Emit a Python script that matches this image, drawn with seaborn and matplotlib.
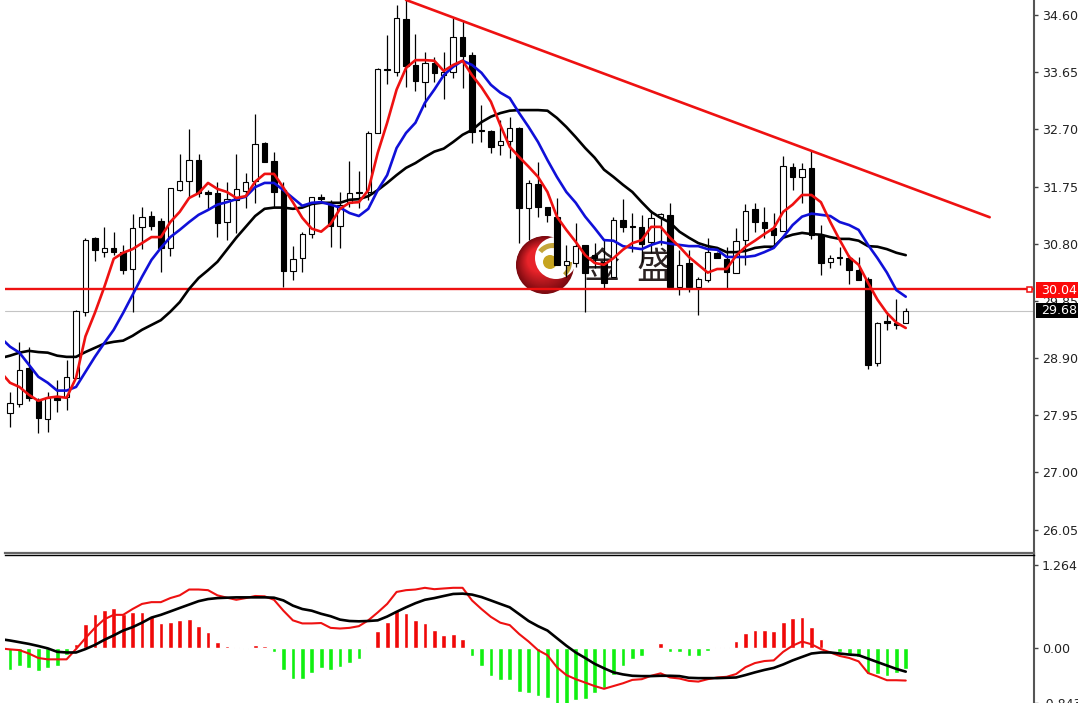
import matplotlib
matplotlib.use("Agg")
import matplotlib.pyplot as plt
from matplotlib.patches import Circle, Rectangle, Wedge
from matplotlib.transforms import Affine2D
from matplotlib.colors import to_rgb
import numpy as np
import pandas as pd
import seaborn as sns

# candles
candle_open = [
    27.98, 28.14, 28.73, 28.19, 27.89, 28.26, 28.26, 28.57, 29.67, 30.90,
    30.66, 30.73, 30.66, 30.38, 31.08, 31.26, 31.18, 30.73, 31.69, 31.84,
    32.19, 31.66, 31.64, 31.16, 31.53, 31.68, 31.84, 32.47, 32.18, 31.69,
    30.35, 30.56, 30.96, 31.58, 31.45, 31.10, 31.48, 31.66, 31.66, 32.64,
    33.70, 33.65, 34.53, 33.77, 33.49, 33.80, 33.60, 33.65, 34.24, 33.94,
    32.69, 32.67, 32.44, 32.51, 32.72, 31.40, 31.79, 31.41, 31.25, 30.45,
    30.48, 30.78, 30.61, 30.50, 30.25, 31.20, 31.09, 31.08, 30.83, 31.25,
    31.28, 30.08, 30.48, 30.08, 30.20, 30.65, 30.55, 30.32, 30.86, 31.38,
    31.16, 31.06, 31.01, 32.08, 31.91, 32.06, 30.95, 30.50, 30.58, 30.57,
    30.37, 30.22, 28.82, 29.51, 29.49, 29.49]
candle_close = [
    28.16, 28.71, 28.24, 27.91, 28.24, 28.21, 28.59, 29.68, 30.86, 30.70,
    30.73, 30.66, 30.36, 31.06, 31.24, 31.09, 30.73, 31.73, 31.84, 32.19,
    31.64, 31.63, 31.15, 31.54, 31.71, 31.83, 32.46, 32.16, 31.66, 30.35,
    30.55, 30.96, 31.58, 31.54, 31.10, 31.45, 31.64, 31.64, 32.64, 33.70,
    33.68, 34.55, 33.75, 33.50, 33.80, 33.64, 33.65, 34.24, 33.92, 32.66,
    32.67, 32.41, 32.51, 32.72, 31.40, 31.81, 31.41, 31.28, 30.45, 30.51,
    30.76, 30.32, 30.56, 30.15, 31.20, 31.08, 31.07, 30.80, 31.23, 31.30,
    30.08, 30.45, 30.08, 30.22, 30.66, 30.56, 30.33, 30.85, 31.35, 31.16,
    31.06, 30.95, 32.09, 31.91, 32.04, 30.95, 30.48, 30.57, 30.56, 30.37,
    30.20, 28.79, 29.49, 29.49, 29.45, 29.68]
candle_high = [
    28.34, 29.16, 29.09, 28.24, 28.34, 28.54, 28.86, 29.70, 30.90, 30.91,
    31.08, 31.00, 30.78, 31.30, 31.41, 31.35, 31.23, 31.73, 32.29, 32.71,
    32.29, 31.69, 31.83, 31.83, 32.29, 31.98, 32.96, 32.49, 32.33, 31.83,
    30.76, 31.00, 31.58, 31.63, 31.53, 31.66, 32.18, 32.01, 32.67, 33.72,
    34.27, 34.77, 34.85, 34.29, 33.99, 33.90, 33.99, 34.55, 34.52, 33.99,
    33.11, 32.69, 32.86, 32.91, 32.74, 31.86, 32.16, 31.41, 31.56, 30.78,
    31.15, 30.78, 30.81, 30.86, 31.25, 31.54, 31.31, 31.28, 31.36, 31.31,
    31.48, 30.70, 30.70, 30.25, 30.90, 30.66, 30.75, 31.06, 31.46, 31.48,
    31.41, 31.31, 32.26, 32.14, 32.14, 32.34, 31.11, 30.62, 30.75, 30.62,
    30.58, 30.25, 29.50, 29.65, 29.88, 29.73]
candle_low = [
    27.76, 28.08, 28.19, 27.66, 27.68, 28.01, 28.04, 28.57, 29.60, 30.52,
    30.58, 30.62, 30.30, 29.67, 30.71, 31.03, 30.33, 30.60, 31.68, 31.56,
    31.58, 31.36, 30.91, 30.86, 30.98, 31.40, 31.48, 32.16, 31.41, 30.08,
    30.20, 30.33, 30.90, 31.51, 30.75, 30.73, 31.41, 31.40, 31.53, 32.64,
    33.45, 33.59, 33.41, 33.34, 33.07, 33.49, 33.21, 33.55, 33.39, 32.47,
    32.49, 32.31, 32.28, 32.23, 30.81, 30.86, 31.25, 31.16, 30.45, 30.25,
    30.42, 29.67, 30.40, 30.07, 30.25, 31.00, 30.66, 30.50, 30.65, 30.78,
    30.07, 29.95, 30.00, 29.62, 30.17, 30.56, 30.07, 30.32, 30.45, 31.00,
    30.90, 30.78, 31.01, 31.69, 31.48, 30.88, 30.28, 30.40, 30.45, 30.13,
    30.20, 28.72, 28.77, 29.37, 29.39, 29.49]

# moving averages, first value is the bar before the first candle
ma_fast = [
    28.67, 28.49, 28.42, 28.29, 28.19, 28.24, 28.26, 28.24, 28.57, 29.26,
    29.65, 30.08, 30.55, 30.65, 30.71, 30.81, 30.91, 30.91, 31.16, 31.33,
    31.56, 31.64, 31.81, 31.71, 31.66, 31.56, 31.59, 31.83, 31.96, 31.96,
    31.73, 31.49, 31.23, 31.05, 31.00, 31.13, 31.38, 31.48, 31.49, 31.69,
    32.31, 32.81, 33.36, 33.72, 33.85, 33.85, 33.84, 33.67, 33.77, 33.84,
    33.60, 33.40, 33.16, 32.77, 32.41, 32.24, 32.08, 31.91, 31.66, 31.25,
    31.03, 30.83, 30.61, 30.48, 30.45, 30.56, 30.70, 30.81, 30.86, 31.08,
    31.08, 30.90, 30.75, 30.58, 30.45, 30.32, 30.38, 30.38, 30.60, 30.75,
    30.85, 30.96, 31.06, 31.33, 31.45, 31.61, 31.61, 31.49, 31.16, 30.86,
    30.58, 30.45, 30.15, 29.87, 29.65, 29.49, 29.40]
ma_mid = [
    29.24, 29.09, 28.99, 28.79, 28.59, 28.49, 28.36, 28.36, 28.42, 28.67,
    28.92, 29.15, 29.37, 29.65, 29.95, 30.25, 30.53, 30.73, 30.91, 31.03,
    31.16, 31.28, 31.36, 31.45, 31.49, 31.54, 31.58, 31.74, 31.81, 31.81,
    31.69, 31.56, 31.43, 31.48, 31.49, 31.45, 31.40, 31.31, 31.26, 31.38,
    31.69, 31.94, 32.39, 32.64, 32.81, 33.14, 33.36, 33.60, 33.74, 33.84,
    33.77, 33.64, 33.44, 33.31, 33.22, 32.97, 32.74, 32.49, 32.19, 31.91,
    31.66, 31.48, 31.25, 31.06, 30.86, 30.85, 30.76, 30.73, 30.71, 30.78,
    30.83, 30.80, 30.78, 30.76, 30.76, 30.71, 30.70, 30.58, 30.58, 30.58,
    30.60, 30.66, 30.73, 30.91, 31.11, 31.25, 31.30, 31.28, 31.26, 31.16,
    31.11, 31.03, 30.78, 30.56, 30.32, 30.03, 29.92]
ma_slow = [
    28.90, 28.94, 28.99, 29.02, 29.00, 28.99, 28.94, 28.92, 28.92, 29.00,
    29.07, 29.14, 29.17, 29.19, 29.27, 29.37, 29.45, 29.53, 29.67, 29.83,
    30.05, 30.23, 30.36, 30.50, 30.70, 30.90, 31.08, 31.26, 31.38, 31.40,
    31.40, 31.38, 31.40, 31.46, 31.48, 31.48, 31.48, 31.53, 31.54, 31.59,
    31.69, 31.81, 31.94, 32.06, 32.14, 32.24, 32.33, 32.38, 32.49, 32.61,
    32.69, 32.82, 32.91, 32.97, 33.01, 33.02, 33.02, 33.02, 33.01, 32.89,
    32.74, 32.57, 32.39, 32.23, 32.03, 31.91, 31.78, 31.66, 31.49, 31.33,
    31.23, 31.15, 31.00, 30.90, 30.81, 30.76, 30.73, 30.66, 30.66, 30.68,
    30.73, 30.75, 30.75, 30.90, 30.95, 30.98, 30.96, 30.95, 30.91, 30.88,
    30.88, 30.85, 30.76, 30.75, 30.71, 30.65, 30.61]

# MACD panel
macd_hist = [
    -0.335, -0.283, -0.309, -0.351, -0.314, -0.283, -0.105, 0.052, 0.366, 0.513,
    0.581, 0.602, 0.513, 0.539, 0.539, 0.486, 0.371, 0.397, 0.418, 0.439,
    0.329, 0.241, 0.084, 0.026, 0.010, -0.021, 0.042, 0.021, -0.073, -0.340,
    -0.481, -0.481, -0.392, -0.314, -0.340, -0.298, -0.230, -0.178, 0.010, 0.262,
    0.392, 0.581, 0.528, 0.418, 0.371, 0.277, 0.188, 0.209, 0.136, -0.126,
    -0.283, -0.429, -0.497, -0.497, -0.680, -0.690, -0.743, -0.769, -0.889, -0.889,
    -0.795, -0.785, -0.690, -0.612, -0.418, -0.283, -0.178, -0.126, -0.010, 0.068,
    -0.063, -0.063, -0.126, -0.126, -0.052, 0.010, 0.010, 0.105, 0.225, 0.277,
    0.277, 0.262, 0.397, 0.460, 0.476, 0.314, 0.136, 0.010, -0.073, -0.089,
    -0.141, -0.403, -0.403, -0.429, -0.387, -0.324]
macd_signal = [
    0.131, 0.110, 0.084, 0.058, 0.026, -0.010, -0.063, -0.073, -0.073, -0.021,
    0.042, 0.120, 0.188, 0.262, 0.314, 0.382, 0.460, 0.502, 0.554, 0.607,
    0.659, 0.711, 0.743, 0.758, 0.764, 0.769, 0.769, 0.769, 0.769, 0.764,
    0.722, 0.643, 0.591, 0.565, 0.518, 0.481, 0.429, 0.408, 0.403, 0.408,
    0.418, 0.476, 0.549, 0.617, 0.680, 0.732, 0.758, 0.790, 0.821, 0.826,
    0.811, 0.774, 0.722, 0.669, 0.617, 0.513, 0.408, 0.329, 0.262, 0.146,
    0.031, -0.073, -0.157, -0.246, -0.314, -0.377, -0.408, -0.429, -0.434, -0.434,
    -0.429, -0.429, -0.434, -0.460, -0.465, -0.465, -0.465, -0.460, -0.455, -0.418,
    -0.377, -0.340, -0.309, -0.256, -0.194, -0.141, -0.089, -0.073, -0.073, -0.089,
    -0.105, -0.115, -0.167, -0.220, -0.272, -0.324, -0.366]
macd_line = [
    -0.010, -0.026, -0.037, -0.089, -0.157, -0.178, -0.178, -0.178, -0.021, 0.146,
    0.303, 0.434, 0.502, 0.502, 0.591, 0.669, 0.696, 0.696, 0.758, 0.800,
    0.889, 0.889, 0.879, 0.800, 0.764, 0.732, 0.758, 0.790, 0.785, 0.732,
    0.565, 0.418, 0.371, 0.371, 0.377, 0.303, 0.293, 0.303, 0.329, 0.418,
    0.539, 0.669, 0.852, 0.879, 0.889, 0.915, 0.894, 0.905, 0.915, 0.915,
    0.722, 0.591, 0.471, 0.382, 0.345, 0.209, 0.094, -0.037, -0.115, -0.298,
    -0.418, -0.481, -0.533, -0.586, -0.628, -0.586, -0.544, -0.492, -0.481, -0.429,
    -0.392, -0.455, -0.471, -0.507, -0.518, -0.481, -0.455, -0.445, -0.403, -0.298,
    -0.235, -0.204, -0.194, -0.063, 0.031, 0.094, 0.052, -0.021, -0.073, -0.126,
    -0.157, -0.209, -0.387, -0.439, -0.497, -0.497, -0.502]

price_ticks = [34.60, 33.65, 32.70, 31.75, 30.80, 29.85, 28.90, 27.95, 27.00, 26.05]
macd_ticks = [1.264, 0.00, -0.843]
macd_tick_labels = ["1.264", "0.00", "-0.843"]
support_price = 30.04
last_price = 29.68
trend_bar = [42.0, 103.9]
trend_price = [34.85, 31.24]

W, H = 1078, 703
RED = "#ee1111"

sns.set_theme(style="white")
plt.rcParams['font.family'] = ['DejaVu Sans']

fig = plt.figure(figsize=(W / 100, H / 100), dpi=100)
ax = fig.add_axes([5 / W, (H - 552.5) / H, 1029 / W, 552.5 / H])
ax2 = fig.add_axes([5 / W, 0, 1029 / W, (H - 554.5) / H])

# top-left pixel coords, only for the watermark and the price tags
px = Affine2D().scale(1, -1).translate(0, H)

bars = np.arange(len(candle_open))
ma_bars = np.arange(-1, len(candle_open))
candles = pd.DataFrame({"o": candle_open, "c": candle_close, "h": candle_high, "l": candle_low}, index=bars)
mas = pd.DataFrame({"bar": ma_bars, "fast": ma_fast, "mid": ma_mid, "slow": ma_slow})
macd = pd.DataFrame({"bar": ma_bars, "line": macd_line, "signal": macd_signal})
hist = pd.DataFrame({"bar": bars, "value": macd_hist})
hist["side"] = np.where(hist["value"] >= 0, "up", "down")

# watermark logo, under the candles
logo_dark, logo_light = np.array(to_rgb("#7a0a10")), np.array(to_rgb("#e8242a"))
for t in np.linspace(0, 1, 40):
    col = logo_dark + (logo_light - logo_dark) * min(t * 1.6, 1)
    ax.add_patch(Circle((545 - 9 * t, 265 - 8 * t), 27 * (1 - t) + 2, transform=px, fc=col, ec="none", zorder=1))
ax.add_patch(Circle((556, 258), 21, transform=px, fc="white", ec="none", zorder=1.1))
ax.add_patch(Wedge((553, 262), 19, 219, 285, width=5, transform=px, fc="#c4a53a", ec="none", zorder=1.2))
ax.add_patch(Wedge((553, 262), 19, 0, 48, width=4, transform=px, fc="#b89a30", ec="none", zorder=1.2))
ax.add_patch(Circle((550, 262), 7, transform=px, fc="#c6a420", ec="none", zorder=1.3))
ax.text(602, 268, "金", transform=px, family=["Noto Sans CJK SC"], fontsize=26, color="#2b2222", ha="center", va="center", zorder=1.4)
ax.text(654, 268, "盛", transform=px, family=["Noto Sans CJK SC"], fontsize=26, color="#2b2222", ha="center", va="center", zorder=1.4)

# candles
ax.vlines(bars, candles["l"], candles["h"], color="black", lw=0.9, zorder=2)
up = candles[candles["c"] >= candles["o"]]
down = candles[candles["c"] < candles["o"]]
ax.bar(up.index, up["c"] - up["o"], bottom=up["o"], width=0.58, facecolor="white", edgecolor="black", lw=0.8, zorder=2.1)
ax.bar(down.index, down["o"] - down["c"], bottom=down["c"], width=0.58, facecolor="black", edgecolor="black", lw=0.8, zorder=2.1)

ax.axhline(last_price, color="#c4c4c4", lw=0.8, zorder=1.5)
ax.axhline(support_price, color=RED, lw=1.7, zorder=3)
ax.add_patch(Rectangle((1027, 286.5), 5, 5, transform=px, fc="white", ec=RED, lw=1.1, zorder=3.1))

sns.lineplot(data=mas, x="bar", y="slow", color="black", lw=1.9, ax=ax, zorder=3)
sns.lineplot(data=mas, x="bar", y="mid", color="#1010d8", lw=1.9, ax=ax, zorder=3)
sns.lineplot(data=mas, x="bar", y="fast", color=RED, lw=1.9, ax=ax, zorder=3)
sns.lineplot(x=trend_bar, y=trend_price, color=RED, lw=1.9, ax=ax, zorder=3)

# MACD
sns.barplot(data=hist, x="bar", y="value", hue="side", palette={"up": "#f00808", "down": "#10f010"},
            native_scale=True, dodge=False, width=0.5, saturation=1, legend=False, ax=ax2, zorder=2)
sns.lineplot(data=macd, x="bar", y="line", color=RED, lw=1.5, ax=ax2, zorder=3)
sns.lineplot(data=macd, x="bar", y="signal", color="black", lw=1.9, ax=ax2, zorder=3)

for a in (ax, ax2):
    a.set_xlim(-0.53, 108.6)
    a.set_xlabel("")
    a.set_ylabel("")
    a.set_xticks([])
    a.yaxis.tick_right()
    a.tick_params(axis="y", right=True, length=3, width=1, color="#444444", pad=2.5, labelsize=9.1, labelcolor="#222222")
    a.set_facecolor("white")
    a.spines["left"].set_visible(False)
    a.spines["right"].set_color("#555555")
    a.spines["right"].set_linewidth(1.5)

ax.set_ylim(25.67, 34.849)
ax.set_yticks(price_ticks)
ax.set_yticklabels([f"{t:.2f}" for t in price_ticks])
ax.spines["top"].set_visible(False)
ax.spines["bottom"].set_color("#666666")
ax.spines["bottom"].set_linewidth(1.6)

ax2.set_ylim(-0.845, 1.424)
ax2.set_yticks(macd_ticks)
ax2.set_yticklabels(macd_tick_labels)
ax2.spines["bottom"].set_visible(False)
ax2.spines["top"].set_color("black")
ax2.spines["top"].set_linewidth(1.0)

# price tags on the scale
ax.add_patch(Rectangle((1036, 282), 42, 16, transform=px, fc="#fb0a0a", ec="none", clip_on=False, zorder=6))
ax.add_patch(Rectangle((1036, 303), 42, 15, transform=px, fc="black", ec="none", clip_on=False, zorder=6))
ax.text(1041, 290, f"{support_price:.2f}", transform=px, color="white", fontsize=9.1, va="center", clip_on=False, zorder=7)
ax.text(1041, 311, f"{last_price:.2f}", transform=px, color="white", fontsize=9.1, va="center", clip_on=False, zorder=7)

fig.savefig("out.png", dpi=100, facecolor="white")
